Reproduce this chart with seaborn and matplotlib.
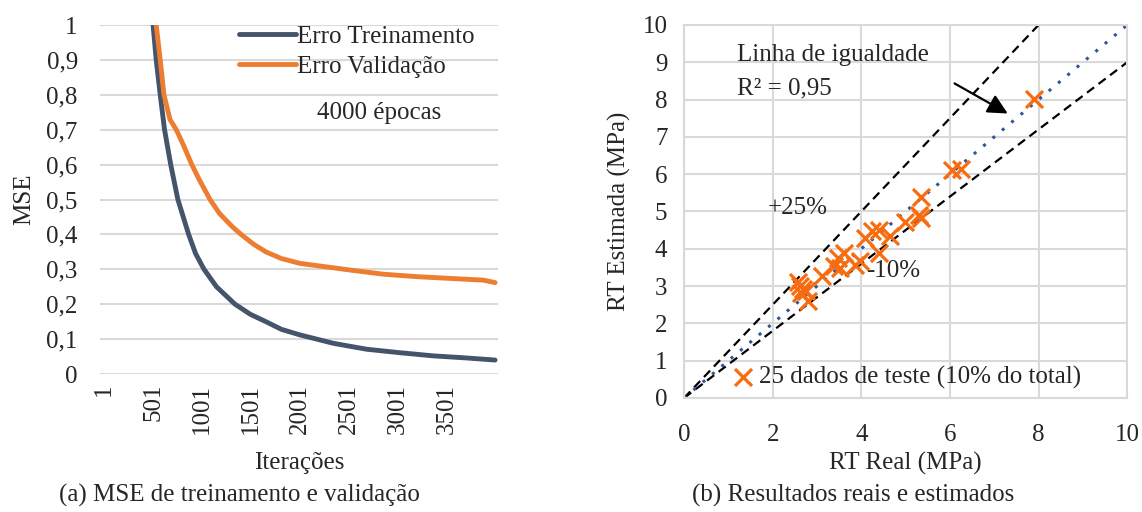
import numpy as np
import pandas as pd
import seaborn as sns
import matplotlib.pyplot as plt

# curva de treinamento / validacao
it_trein = [1, 300, 420, 501, 533, 574, 618, 681, 754, 864, 935, 1021, 1148, 1337, 1494,
            1652, 1810, 2000, 2340, 2680, 3020, 3360, 3700, 3990]
mse_trein = [3.0, 1.6, 1.25, 1.0, 0.9, 0.8, 0.7, 0.6, 0.5, 0.4, 0.345, 0.3, 0.25, 0.2,
             0.171, 0.15, 0.128, 0.112, 0.088, 0.071, 0.061, 0.052, 0.046, 0.04]
it_valid = [1, 350, 460, 533, 574, 612, 674, 738, 817, 896, 974, 1082, 1179, 1306, 1399,
            1526, 1652, 1810, 2000, 2510, 2850, 3190, 3530, 3870, 3990]
mse_valid = [3.0, 1.55, 1.22, 1.0, 0.9, 0.8, 0.729, 0.7, 0.652, 0.6, 0.556, 0.5, 0.46,
             0.423, 0.4, 0.372, 0.35, 0.331, 0.317, 0.298, 0.286, 0.279, 0.274, 0.269,
             0.262]

# dados de teste: RT real x RT estimada
rt_real = [7.90, 6.04, 6.26, 5.34, 5.31, 5.35, 4.98, 4.65, 4.40, 4.25, 4.08, 4.40, 3.96,
           3.86, 3.62, 3.47, 3.39, 3.51, 3.12, 2.57, 2.68, 2.65, 2.80, 2.61, 2.75]
rt_est = [8.02, 6.12, 6.13, 5.38, 4.91, 4.82, 4.71, 4.33, 4.51, 4.48, 4.29, 3.88, 3.66,
          3.57, 3.88, 3.75, 3.53, 3.48, 3.26, 3.10, 2.92, 2.81, 2.59, 2.99, 2.86]

sns.set_theme(style="white")
plt.rcParams['font.family'] = ['Liberation Serif', 'DejaVu Serif']
fs = 18
plt.rcParams['font.size'] = fs

fig = plt.figure(figsize=(11.42, 5.12), dpi=100)
ax1 = fig.add_axes([0.0876, 0.2695, 0.3485, 0.6816])
ax2 = fig.add_axes([0.599, 0.2227, 0.388, 0.7285])

azul = '#44546A'
laranja = '#ED7D31'

# ---- (a) MSE
sns.lineplot(x=it_trein, y=mse_trein, ax=ax1, color=azul, lw=3.5, label='Erro Treinamento')
sns.lineplot(x=it_valid, y=mse_valid, ax=ax1, color=laranja, lw=3.5, label='Erro Validação')
ax1.set_xlim(-40, 4020)
ax1.set_ylim(0, 1)
ax1.set_yticks(np.arange(0, 1.01, 0.1))
ax1.set_yticklabels(['0'] + [f'0,{i}' for i in range(1, 10)] + ['1'])
ax1.set_xticks(np.arange(1, 4000, 500))
ax1.set_xticklabels([str(v) for v in np.arange(1, 4000, 500)], rotation=90)
ax1.tick_params(axis='y', length=0, pad=16, labelsize=fs)
ax1.tick_params(axis='x', length=0, pad=7, labelsize=fs)
for s in ax1.spines.values():
    s.set_visible(False)
ax1.yaxis.grid(True, color='#D9D9D9', lw=1.5)
ax1.set_axisbelow(True)
ax1.set_xlabel('Iterações', fontsize=fs, labelpad=13)
ax1.set_ylabel('MSE', fontsize=fs, labelpad=8)
ax1.legend(loc='upper left', bbox_to_anchor=(0.35, 1.0), frameon=False, fontsize=fs,
           handlelength=2.25, labelspacing=0.3, borderaxespad=0, borderpad=0,
           handletextpad=0.05)
ax1.text(0.70, 0.748, '4000 épocas', transform=ax1.transAxes, ha='center', va='center',
         fontsize=fs)

# ---- (b) real x estimado
xs = np.array([0, 10])
ax2.plot(xs, 1.25 * xs, color='black', ls=(0, (4, 2.5)), lw=1.6)
ax2.plot(xs, 0.9 * xs, color='black', ls=(0, (4, 2.5)), lw=1.6)
ax2.plot(xs, xs, color='#2F5597', ls=(0, (1, 3)), lw=2.2)
sns.scatterplot(x=rt_real, y=rt_est, ax=ax2, marker='x', s=150, color='#F96B0F',
                linewidth=2.3, label='25 dados de teste (10% do total)', zorder=5)
ax2.set_xlim(0, 10)
ax2.set_ylim(0, 10)
ax2.set_xticks(range(0, 11, 2))
ax2.set_yticks(range(0, 11))
ax2.tick_params(axis='both', length=0, labelsize=fs)
ax2.tick_params(axis='y', pad=12)
ax2.tick_params(axis='x', pad=19)
ax2.xaxis.grid(True, color='#D9D9D9', lw=1.5)
ax2.yaxis.grid(True, color='#D9D9D9', lw=1.5)
ax2.set_axisbelow(True)
for s in ax2.spines.values():
    s.set_color('#D9D9D9')
    s.set_linewidth(1.5)
ax2.set_xlabel('RT Real (MPa)', fontsize=fs, labelpad=4)
ax2.set_ylabel('RT Estimada (MPa)', fontsize=fs, labelpad=8)
ax2.text(1.2, 9.2, 'Linha de igualdade', fontsize=fs, va='center')
ax2.text(1.2, 8.3, 'R² = 0,95', fontsize=fs, va='center')
ax2.text(1.9, 5.1, '+25%', fontsize=fs, va='center')
ax2.text(4.1, 3.4, '-10%', fontsize=fs, va='center')
ax2.annotate('', xy=(7.36, 7.59), xytext=(6.05, 8.47),
             arrowprops=dict(arrowstyle='-|>', color='black', lw=1.6, mutation_scale=30))
ax2.legend(loc='center left', bbox_to_anchor=(0.105, 0.056), frameon=False, fontsize=fs,
           handlelength=1.0, handletextpad=0.15, borderaxespad=0, borderpad=0)

fig.text(0.21, 0.033, '(a) MSE de treinamento e validação', ha='center', va='center',
         fontsize=fs)
fig.text(0.747, 0.033, '(b) Resultados reais e estimados', ha='center', va='center',
         fontsize=fs)

fig.savefig('out.png', dpi=100)
